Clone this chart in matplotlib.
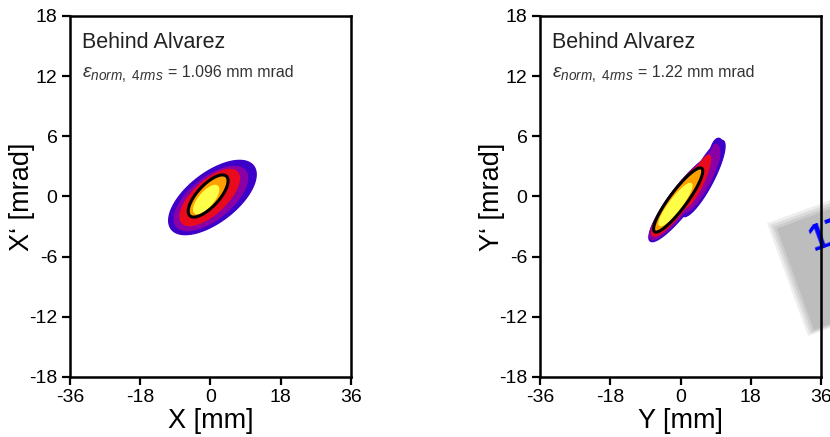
"""
Transverse phase-space plots behind the Alvarez section (X-X' and Y-Y').
Particle density is drawn as nested filled contours, the black line is the
4-rms emittance ellipse.
"""

import numpy as np
import matplotlib
matplotlib.use("Agg")
import matplotlib.pyplot as plt
from matplotlib.patches import Polygon, Rectangle
from matplotlib.transforms import IdentityTransform

plt.rcParams["font.family"] = ["Liberation Sans", "DejaVu Sans"]
plt.rcParams["mathtext.fontset"] = "custom"
plt.rcParams["mathtext.rm"] = "Liberation Sans"
plt.rcParams["mathtext.it"] = "Liberation Sans:italic"
plt.rcParams["axes.unicode_minus"] = False

x_ticks = [-36, -18, 0, 18, 36]
y_ticks = [-18, -12, -6, 0, 6, 12, 18]

panel_titles = ["Behind Alvarez", "Behind Alvarez"]
emittances = ["1.096", "1.22"]
x_labels = ["X [mm]", "Y [mm]"]
y_labels = ["X\u2018 [mrad]", "Y\u2018 [mrad]"]

# density levels, low -> high
density_colors = ["#3c00c8", "#8a00a6", "#ea0a1e", "#ffa000", "#ffff48"]

# contours per level: (level, x centre, x' centre, x half-extent, x' half-extent, correlation)
left_contours = [
    (0, 0.5, -0.1, 11.2, 3.7, 0.62),
    (1, 0.1, -0.2, 9.4, 3.2, 0.64),
    (2, -0.2, -0.1, 7.6, 2.8, 0.68),
    (3, -0.6, 0.05, 5.1, 2.1, 0.72),
    (4, -1.1, -0.3, 3.2, 1.4, 0.72),
]
right_contours = [
    (0, 0.5, -0.2, 8.6, 4.3, 0.90),
    (0, 5.8, 1.8, 5.6, 3.8, 0.85),
    (0, 9.2, 4.3, 1.8, 1.5, 0.30),
    (1, 0.0, -0.3, 7.9, 4.0, 0.90),
    (1, 5.2, 1.6, 4.8, 3.2, 0.85),
    (1, 8.8, 4.0, 1.2, 1.2, 0.30),
    (2, -0.4, -0.35, 7.0, 3.6, 0.90),
    (2, 4.2, 1.5, 3.5, 2.6, 0.85),
    (3, -0.6, -0.35, 6.2, 3.15, 0.90),
    (4, -1.3, -0.8, 4.2, 2.1, 0.90),
]

# 4-rms emittance ellipses: (x centre, x' centre, x half-extent, x' half-extent, correlation)
left_ellipse = (-0.6, 0.05, 5.1, 2.1, 0.72)
right_ellipse = (-0.6, -0.35, 6.3, 3.2, 0.90)


def ellipse_points(cx, cy, hx, hy, r, n=200):
    phi = np.arccos(r)
    t = np.linspace(0, 2 * np.pi, n)
    return np.column_stack([cx + hx * np.cos(t), cy + hy * np.cos(t + phi)])


fig = plt.figure(figsize=(8.3, 4.37), dpi=100)
axes = [fig.add_axes([0.0843, 0.1373, 0.3386, 0.8261]),
        fig.add_axes([0.6506, 0.1373, 0.3386, 0.8261])]

for i, ax in enumerate(axes):
    contours = left_contours if i == 0 else right_contours
    ell = left_ellipse if i == 0 else right_ellipse

    for level, cx, cy, hx, hy, r in contours:
        ax.add_patch(Polygon(ellipse_points(cx, cy, hx, hy, r), closed=True,
                             facecolor=density_colors[level], edgecolor=density_colors[level],
                             linewidth=1.0, zorder=1 + level * 0.1))
    ax.add_patch(Polygon(ellipse_points(*ell), closed=True, fill=False,
                         edgecolor="black", linewidth=2.2, zorder=2))

    ax.set_xlim(-36, 36)
    ax.set_ylim(-18, 18)
    ax.set_xticks(x_ticks)
    ax.set_yticks(y_ticks)
    ax.tick_params(direction="out", length=6, width=1.6, labelsize=14, pad=3,
                   top=False, right=False)
    for sp in ax.spines.values():
        sp.set_linewidth(1.8)
        sp.set_zorder(3)
    ax.set_xlabel(x_labels[i], fontsize=19.5, va="top")
    ax.xaxis.set_label_coords(0.5, -0.086)
    ax.set_ylabel(y_labels[i], fontsize=19.5)
    ax.yaxis.set_label_coords(-0.125, 0.5)

    ax.text(0.043, 0.911, panel_titles[i], transform=ax.transAxes, fontsize=15.5,
            color="#222222", va="baseline", ha="left")
    ax.text(0.043, 0.831, r"$\varepsilon_{norm,\ 4rms}$", transform=ax.transAxes,
            fontsize=14, color="#333333", va="baseline", ha="left")
    ax.text(0.35, 0.831, f"= {emittances[i]} mm mrad", transform=ax.transAxes,
            fontsize=11.5, color="#333333", va="baseline", ha="left")

# grey slide overlay poking in from the right edge (soft edge)
ax = axes[1]
for k, a in [(6, 0.25), (4, 0.35), (2, 0.5), (0, 1.0)]:
    ax.add_patch(Rectangle((814 - k, 107 - k), 110 + 2 * k, 108 + 2 * k, angle=20,
                           transform=IdentityTransform(), facecolor="#bdbdbd",
                           edgecolor="none", alpha=a, clip_on=False, zorder=1.8))
ax.text(814, 186, "17", transform=IdentityTransform(), rotation=20, rotation_mode="anchor",
        fontsize=26, fontweight="bold", color="#0000ff", ha="left", va="baseline",
        clip_on=False, zorder=2.5)

fig.savefig("out.png", dpi=100)
